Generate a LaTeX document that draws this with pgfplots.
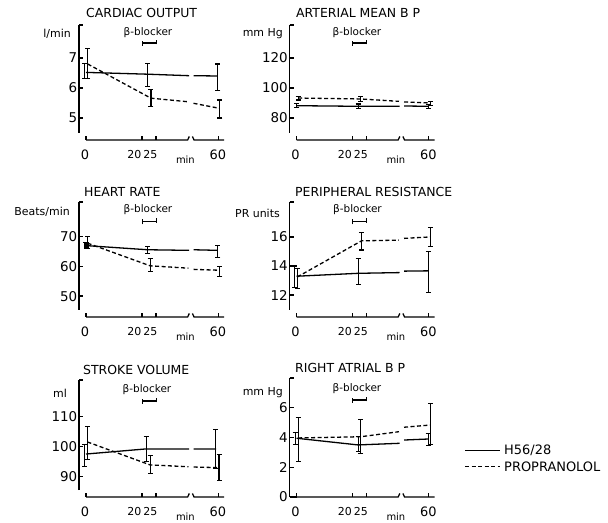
\documentclass[border=0pt]{standalone}
\usepackage{fontspec}
\setmainfont{DejaVu Sans}
\usepackage{pgfplots}
\pgfplotsset{compat=1.18}

\tikzset{
  tl/.style={inner sep=0pt, font=\fontsize{13}{13}\selectfont},
  tls/.style={inner sep=0pt, font=\fontsize{11}{11}\selectfont},
  ml/.style={inner sep=0pt, font=\fontsize{10}{10}\selectfont},
  ttl/.style={inner sep=0pt, anchor=west, font=\fontsize{12.5}{12.5}\selectfont},
  un/.style={inner sep=0pt, anchor=east, font=\fontsize{11}{11}\selectfont},
  bl/.style={inner sep=0pt, font=\fontsize{10.5}{10.5}\selectfont},
  lg/.style={inner sep=0pt, anchor=west, font=\fontsize{13}{13}\selectfont},
}

\pgfplotsset{
  panel/.style={
    scale only axis, width=147bp,
    xmin=-2.5, xmax=50,
    axis x line=none, axis y line=left,
    axis line style={-, line width=1.3bp},
    tick align=inside, major tick length=4bp,
    ytick style={line width=1.3bp, black},
    yticklabel style={font=\fontsize{13.5}{13.5}\selectfont, inner sep=1.5bp},
    /pgf/number format/assume math mode=true,
    extra y tick labels={},
    extra y tick style={tick align=inside},
    clip=false, anchor=south west,
  },
  sol/.style={black, line width=1.3bp, solid, mark=none, unbounded coords=jump},
  das/.style={black, line width=1.3bp, mark=none, dash pattern=on 4bp off 2.5bp, unbounded coords=jump},
  eb/.style={draw=none, mark=none, forget plot,
    error bars/.cd, y dir=both, y explicit,
    error bar style={draw=black, line width=1.1bp, solid},
    error mark options={rotate=90, draw=black, mark size=2.5bp, line width=1.1bp, solid}},
}

% x axis with break: #1 = ymin, #2 = downward shift
\newcommand{\xaxis}[2]{%
  \draw[line width=1.3bp] ([yshift=-#2]axis cs:0,#1) -- ([yshift=-#2]axis cs:36.3,#1) -- ([yshift=3.5bp-#2]axis cs:36.9,#1);
  \draw[line width=1.3bp] ([yshift=3.5bp-#2]axis cs:38.0,#1) -- ([yshift=-#2]axis cs:38.6,#1) -- ([yshift=-#2]axis cs:49.3,#1);
  \draw[line width=1.3bp] ([yshift=-#2]axis cs:0,#1) -- ([yshift=4bp-#2]axis cs:0,#1);
  \draw[line width=1.3bp] ([yshift=-#2]axis cs:20,#1) -- ([yshift=4bp-#2]axis cs:20,#1);
  \draw[line width=1.3bp] ([yshift=-#2]axis cs:25,#1) -- ([yshift=4bp-#2]axis cs:25,#1);
  \draw[line width=1.3bp] ([yshift=-#2]axis cs:47.2,#1) -- ([yshift=4bp-#2]axis cs:47.2,#1);
  \node[tl] at ([yshift=-#2-14.5bp]axis cs:-0.4,#1) {0};
  \node[tls] at ([yshift=-#2-14.5bp]axis cs:17.3,#1) {20};
  \node[tls] at ([yshift=-#2-14.5bp]axis cs:23.0,#1) {25};
  \node[tl] at ([yshift=-#2-14.5bp]axis cs:47.1,#1) {60};
  \node[ml] at ([yshift=-#2-20bp]axis cs:35.5,#1) {min};
}

\newcommand{\blocker}[5]{%
  \node[bl] at (#1bp,#2bp) {β-blocker};
  \draw[line width=1.1bp] (#3bp,#5bp) -- (#4bp,#5bp);
  \draw[line width=1.1bp] (#3bp,#5bp-3bp) -- (#3bp,#5bp+2bp);
  \draw[line width=1.1bp] (#4bp,#5bp-1.5bp) -- (#4bp,#5bp+3bp);
}

\begin{document}
\begin{tikzpicture}
\path[use as bounding box] (0,0) rectangle (608bp,523bp);

% ---------- Cardiac output ----------
\begin{axis}[panel, at={(79bp,390bp)}, height=108bp,
  ymin=4.5, ymax=8.1, ytick={5,6,7}, extra y ticks={8.1}]
\addplot[sol] coordinates {(0,6.52) (22,6.46) (36.8,6.41) (37.6,nan) (38.4,6.41) (47.1,6.40)};
\addplot[das] coordinates {(0.6,6.8) (23.2,5.66) (36.6,5.54) (37.6,nan) (38.4,5.49) (47.8,5.32)};
\addplot[eb] coordinates {(-0.4,6.52) += (0,0.30) -= (0,0.20) (22,6.46) += (0,0.36) -= (0,0.42) (47.1,6.40) += (0,0.40) -= (0,0.47)};
\addplot[eb] coordinates {(0.6,6.8) += (0,0.52) -= (0,0.47) (23.2,5.66) += (0,0.30) -= (0,0.28) (47.8,5.32) += (0,0.28) -= (0,0.32)};
\xaxis{4.5}{7bp}
\end{axis}

% ---------- Arterial mean BP ----------
\begin{axis}[panel, at={(289.5bp,390bp)}, height=108bp,
  ymin=70, ymax=142, ytick={80,100,120}, extra y ticks={142}]
\addplot[sol] coordinates {(0,88.2) (22,87.8) (36.8,87.8) (37.6,nan) (38.4,88.0) (47.1,87.8)};
\addplot[das] coordinates {(0.6,93.3) (22.8,92.7) (36.6,91.1) (37.6,nan) (38.4,90.7) (47.8,90.0)};
\addplot[eb] coordinates {(0,88.2) += (0,1.5) -= (0,1.2) (22,87.8) += (0,1.5) -= (0,1.6) (47.1,87.8) += (0,1.2) -= (0,1.4)};
\addplot[eb] coordinates {(0.6,93.3) += (0,1.1) -= (0,1.3) (22.8,92.7) += (0,1.7) -= (0,1.6) (47.8,90.0) += (0,1.1) -= (0,1.4)};
\xaxis{70}{7bp}
\end{axis}

% ---------- Heart rate ----------
\begin{axis}[panel, at={(79bp,213bp)}, height=108bp,
  ymin=45.33, ymax=81.67, ytick={50,60,70}, extra y ticks={81.67}]
\addplot[sol] coordinates {(0,67.0) (22,65.6) (36.8,65.4) (37.6,nan) (38.4,65.6) (47.1,65.4)};
\addplot[das] coordinates {(0.6,67.8) (22.9,60.2) (36.6,59.4) (37.6,nan) (38.4,59.0) (47.8,58.7)};
\addplot[eb] coordinates {(0,67.0) += (0,1.0) -= (0,0.9) (22,65.6) += (0,1.1) -= (0,1.2) (47.1,65.4) += (0,1.6) -= (0,2.3)};
\addplot[eb] coordinates {(0.6,67.8) += (0,2.2) -= (0,1.8) (22.9,60.2) += (0,2.6) -= (0,1.9) (47.8,58.7) += (0,1.3) -= (0,2.0)};
\addplot[black, only marks, mark=square*, mark size=2bp, forget plot] coordinates {(0.1,67.1)};
\xaxis{45.33}{7bp}
\end{axis}

% ---------- Peripheral resistance ----------
\begin{axis}[panel, at={(289.5bp,213bp)}, height=108bp,
  ymin=10.98, ymax=18.4, ytick={12,14,16}, extra y ticks={18.4}]
\addplot[sol] coordinates {(0,13.3) (22,13.5) (36.8,13.55) (37.6,nan) (38.4,13.65) (47.1,13.67)};
\addplot[das] coordinates {(0.3,13.25) (23.2,15.73) (36.6,15.78) (37.6,nan) (38.4,15.9) (47.8,16.0)};
\addplot[eb] coordinates {(-0.8,13.3) += (0,0.7) -= (0,0.8) (22,13.5) += (0,1.0) -= (0,0.75) (47.1,13.67) += (0,1.33) -= (0,1.47)};
\addplot[eb] coordinates {(0.3,13.25) += (0,0.55) -= (0,0.8) (23.2,15.73) += (0,0.6) -= (0,0.63) (47.8,16.0) += (0,0.67) -= (0,0.67)};
\xaxis{10.98}{7bp}
\end{axis}

% ---------- Stroke volume ----------
\begin{axis}[panel, at={(79bp,33bp)}, height=110bp,
  ymin=85.6, ymax=122, ytick={90,100,110}, extra y ticks={122}]
\addplot[sol] coordinates {(0,97.5) (21.5,99.2) (36.8,99.2) (37.6,nan) (38.4,99.2) (46.5,99.2)};
\addplot[das] coordinates {(0.5,101.5) (22.9,93.9) (36.6,93.3) (37.6,nan) (38.4,93.2) (47.5,93.0)};
\addplot[eb] coordinates {(-0.6,97.5) += (0,3.1) -= (0,4.2) (21.5,99.2) += (0,4.1) -= (0,4.2) (46.3,99.2) += (0,6.4) -= (0,6.4)};
\addplot[eb] coordinates {(0.5,101.5) += (0,5.2) -= (0,5.9) (22.9,93.9) += (0,3.2) -= (0,2.8) (47.5,93.0) += (0,4.4) -= (0,4.4)};
\xaxis{85.6}{7bp}
\end{axis}

% ---------- Right atrial BP ----------
\begin{axis}[panel, at={(289.5bp,26bp)}, height=119bp,
  ymin=0, ymax=8, ytick={0,2,4,6}, extra y ticks={8}]
\addplot[sol] coordinates {(0,3.95) (22,3.5) (36.8,3.61) (37.6,nan) (38.4,3.83) (47.2,3.9)};
\addplot[das] coordinates {(0.6,3.97) (22.9,4.05) (36.6,4.39) (37.6,nan) (38.4,4.69) (47.9,4.84)};
\addplot[eb] coordinates {(-0.5,3.95) += (0,0.4) -= (0,0.45) (22,3.5) += (0,0.55) -= (0,0.45) (47.0,3.9) += (0,0.38) -= (0,0.45)};
\addplot[eb] coordinates {(0.6,3.97) += (0,1.36) -= (0,1.6) (22.9,4.05) += (0,1.13) -= (0,1.11) (47.9,4.84) += (0,1.46) -= (0,1.34)};
\draw[line width=1.3bp] (axis cs:-2.5,0) -- (axis cs:0,0);
\xaxis{0}{0bp}
\end{axis}

% ---------- titles, units, beta-blocker ----------
\node[ttl] at (86bp,510bp) {CARDIAC OUTPUT};
\node[ttl] at (296bp,510bp) {ARTERIAL MEAN B P};
\node[ttl] at (84bp,331.3bp) {HEART RATE};
\node[ttl] at (295bp,331.3bp) {PERIPHERAL RESISTANCE};
\node[ttl] at (83bp,153.5bp) {STROKE VOLUME};
\node[ttl] at (295bp,154.7bp) {RIGHT ATRIAL B P};

\node[un] at (71bp,489bp) {l/min};
\node[un] at (283bp,489bp) {mm Hg};
\node[un] at (70bp,311.3bp) {Beats/min};
\node[un] at (280bp,310bp) {PR units};
\node[un] at (67bp,129.7bp) {ml};
\node[un] at (283bp,130.7bp) {mm Hg};

\blocker{148}{490}{142.5}{156.5}{480}
\blocker{357}{490}{352.5}{366.5}{480}
\blocker{148}{313}{142.5}{156.5}{301.5}
\blocker{357.5}{313}{352.5}{366.5}{301.5}
\blocker{147}{133.7}{142.5}{156.5}{122}
\blocker{357}{134.7}{352.5}{366.5}{123}

% ---------- legend ----------
\draw[black, line width=1.3bp] (465bp,72.3bp) -- (500bp,72.3bp);
\node[lg] at (504bp,72.3bp) {H56/28};
\draw[black, line width=1.3bp, dash pattern=on 4bp off 2.5bp] (465bp,56.3bp) -- (500bp,56.3bp);
\node[lg] at (504bp,56.3bp) {PROPRANOLOL};
\end{tikzpicture}
\end{document}
